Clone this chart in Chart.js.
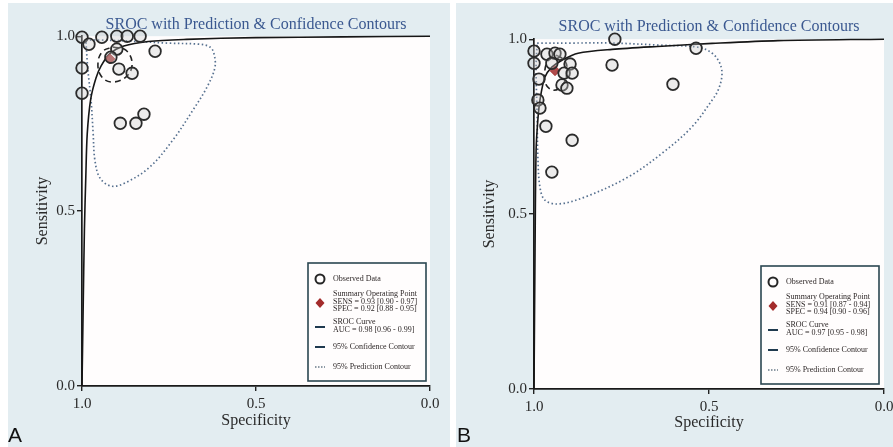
<!DOCTYPE html>
<html lang="en">
<head>
<meta charset="UTF-8">
<title>SROC with Prediction & Confidence Contours</title>
<script src="https://cdn.jsdelivr.net/npm/chart.js"></script>
<style>
  html, body { margin: 0; padding: 0; background: #fff; }
  body { width: 893px; height: 447px; position: relative; overflow: hidden; }
  .panel { position: absolute; top: 3px; height: 444px; background: #e3edf1; }
  #panelA { left: 8px; width: 442px; }
  #panelB { left: 456px; width: 437px; }
  .panel canvas { position: absolute; left: 0; top: 0; }
  .tag { position: absolute; font-family: "Liberation Sans", Arial, sans-serif; font-size: 21px; color: #111; }
</style>
</head>
<body>
<div class="panel" id="panelA"><canvas id="chartA" width="442" height="444"></canvas></div>
<div class="panel" id="panelB"><canvas id="chartB" width="437" height="444"></canvas></div>
<div class="tag" style="left:8px; top:423px;">A</div>
<div class="tag" style="left:457px; top:423px;">B</div>

<script>
// ---- Panel A data (spec, sens) ----
const obsSpecA = [1.000, 0.980, 0.943, 0.900, 0.870, 0.833, 0.790, 0.900, 0.917, 1.000, 0.894, 0.856, 1.000, 0.822, 0.890, 0.845];
const obsSensA = [0.997, 0.977, 0.997, 1.000, 1.000, 1.000, 0.957, 0.963, 0.940, 0.909, 0.906, 0.894, 0.837, 0.777, 0.751, 0.751];
const sumSpecA = 0.92, sumSensA = 0.935;
const srocSpecA = [1.000, 0.997, 0.993, 0.989, 0.985, 0.975, 0.960, 0.945, 0.920, 0.880, 0.810, 0.700, 0.500, 0.250, 0.000];
const srocSensA = [0.000, 0.200, 0.450, 0.600, 0.720, 0.820, 0.880, 0.915, 0.950, 0.972, 0.985, 0.991, 0.996, 0.998, 1.000];
const confSpecA = [0.911, 0.874, 0.856, 0.871, 0.914, 0.945, 0.954, 0.940, 0.911];
const confSensA = [0.969, 0.960, 0.923, 0.886, 0.869, 0.886, 0.926, 0.957, 0.969];
const predSpecA = [0.989, 0.948, 0.862, 0.747, 0.661, 0.632, 0.621, 0.618, 0.641, 0.681, 0.739, 0.805, 0.871, 0.914, 0.948, 0.963, 0.968, 0.974, 0.983, 0.989];
const predSensA = [0.989, 0.989, 0.986, 0.980, 0.977, 0.969, 0.951, 0.911, 0.854, 0.789, 0.703, 0.626, 0.583, 0.571, 0.594, 0.646, 0.723, 0.817, 0.903, 0.989];
const legendA = ['Observed Data', 'Summary Operating Point', 'SENS = 0.93 [0.90 - 0.97]', 'SPEC = 0.92 [0.88 - 0.95]',
                 'SROC Curve', 'AUC = 0.98 [0.96 - 0.99]', '95% Confidence Contour', '95% Prediction Contour'];

// ---- Panel B data (spec, sens) ----
const obsSpecB = [1.000, 1.000, 0.963, 0.940, 0.926, 0.949, 0.897, 0.914, 0.891, 0.920, 0.906, 0.986, 0.989, 0.983, 0.966, 0.891, 0.949, 0.769, 0.777, 0.537, 0.603];
const obsSensB = [0.966, 0.931, 0.957, 0.960, 0.957, 0.931, 0.929, 0.903, 0.903, 0.869, 0.860, 0.886, 0.826, 0.803, 0.751, 0.711, 0.620, 1.000, 0.926, 0.974, 0.871];
const sumSpecB = 0.94, sumSensB = 0.91;
const srocSpecB = [1.000, 0.997, 0.994, 0.989, 0.983, 0.969, 0.949, 0.920, 0.874, 0.777, 0.634, 0.491, 0.303, 0.000];
const srocSensB = [0.000, 0.400, 0.683, 0.769, 0.826, 0.891, 0.920, 0.940, 0.960, 0.971, 0.980, 0.988, 0.996, 1.000];
const confSpecB = [0.934, 0.911, 0.906, 0.917, 0.943, 0.966, 0.969, 0.957, 0.934];
const confSensB = [0.954, 0.937, 0.906, 0.871, 0.854, 0.871, 0.911, 0.943, 0.954];
const predSpecB = [0.991, 0.897, 0.777, 0.640, 0.531, 0.491, 0.469, 0.463, 0.474, 0.491, 0.549, 0.634, 0.731, 0.854, 0.931, 0.969, 0.983, 0.989, 0.991, 0.994, 0.991];
const predSensB = [0.989, 0.989, 0.989, 0.983, 0.977, 0.960, 0.931, 0.897, 0.854, 0.826, 0.749, 0.674, 0.606, 0.549, 0.529, 0.540, 0.577, 0.663, 0.777, 0.920, 0.989];
const legendB = ['Observed Data', 'Summary Operating Point', 'SENS = 0.91 [0.87 - 0.94]', 'SPEC = 0.94 [0.90 - 0.96]',
                 'SROC Curve', 'AUC = 0.97 [0.95 - 0.98]', '95% Confidence Contour', '95% Prediction Contour'];

const titleText = 'SROC with Prediction & Confidence Contours';
const tickVals = [0, 0.5, 1];
const serif = '"Liberation Serif", "Times New Roman", serif';

function toXY(xs, ys) {
    return xs.map((x, i) => ({ x: x, y: ys[i] }));
}

// white plot area
const plotBg = {
    id: 'plotBg',
    beforeDraw(chart) {
        const a = chart.chartArea, ctx = chart.ctx;
        ctx.save();
        ctx.fillStyle = '#fffdfd';
        ctx.fillRect(a.left, a.top, a.right - a.left, a.bottom - a.top);
        ctx.restore();
    }
};

// boxed legend in lower right of the plot
const srocLegend = {
    id: 'srocLegend',
    afterDraw(chart, args, opts) {
        const ctx = chart.ctx, a = chart.chartArea;
        const w = 118, h = 118;
        const bx = a.right - opts.insetRight - w;
        const by = a.bottom - opts.insetBottom - h;
        const t = opts.lines;
        ctx.save();
        ctx.fillStyle = '#fffdfd';
        ctx.fillRect(bx, by, w, h);
        ctx.strokeStyle = '#2b4651';
        ctx.lineWidth = 1.6;
        ctx.strokeRect(bx, by, w, h);

        // symbols
        ctx.strokeStyle = '#262626';
        ctx.lineWidth = 2;
        ctx.beginPath();
        ctx.arc(bx + 12, by + 16, 4.5, 0, Math.PI * 2);
        ctx.stroke();

        ctx.fillStyle = '#a32b2b';
        ctx.beginPath();
        ctx.moveTo(bx + 12, by + 35);
        ctx.lineTo(bx + 16.5, by + 40);
        ctx.lineTo(bx + 12, by + 45);
        ctx.lineTo(bx + 7.5, by + 40);
        ctx.closePath();
        ctx.fill();

        ctx.strokeStyle = '#1f3a4f';
        ctx.lineWidth = 2;
        [64, 84].forEach(dy => {
            ctx.beginPath();
            ctx.moveTo(bx + 7, by + dy);
            ctx.lineTo(bx + 17, by + dy);
            ctx.stroke();
        });
        ctx.lineWidth = 1.2;
        ctx.setLineDash([1.5, 1.5]);
        ctx.beginPath();
        ctx.moveTo(bx + 7, by + 104);
        ctx.lineTo(bx + 17, by + 104);
        ctx.stroke();
        ctx.setLineDash([]);

        // text
        ctx.fillStyle = '#2e2828';
        ctx.font = '8px ' + serif;
        ctx.textBaseline = 'middle';
        ctx.textAlign = 'left';
        const rows = [16, 31, 38.5, 46, 59, 66.5, 84, 104];
        t.forEach((s, i) => ctx.fillText(s, bx + 25, by + rows[i]));
        ctx.restore();
    }
};

function axisOpts(p, titleLabel, isX) {
    return {
        type: 'linear',
        min: 0,
        max: 1,
        reverse: isX,
        afterBuildTicks: s => { s.ticks = tickVals.map(v => ({ value: v })); },
        afterFit: s => { if (isX) { s.height = p.xAxisH; } else { s.width = p.yAxisW; } },
        ticks: {
            callback: v => v.toFixed(1),
            color: '#2a2a2a',
            font: { family: serif, size: 15 },
            padding: isX ? 4 : 2,
            maxRotation: 0,
            autoSkip: false
        },
        grid: { drawOnChartArea: false, drawTicks: true, tickLength: 5, color: '#222', lineWidth: 1.4 },
        border: { display: true, color: '#1a1a1a', width: 1.7 },
        title: {
            display: true,
            text: titleLabel,
            color: '#2a2a2a',
            font: { family: serif, size: 16 },
            padding: isX ? { top: 0, bottom: p.xTitlePad } : { top: p.yTitlePad, bottom: 0 }
        }
    };
}

function buildChart(id, p) {
    return new Chart(document.getElementById(id), {
        type: 'scatter',
        data: {
            datasets: [
                {
                    label: 'Summary Operating Point',
                    data: [{ x: p.sumSpec, y: p.sumSens }],
                    pointStyle: 'rectRot',
                    pointRadius: 5,
                    backgroundColor: 'rgba(163,43,43,0.85)',
                    borderColor: 'rgba(163,43,43,0.85)',
                    order: 2,
                    clip: false
                },
                {
                    label: 'Observed Data',
                    data: toXY(p.obsSpec, p.obsSens),
                    pointStyle: 'circle',
                    pointRadius: 5.8,
                    borderWidth: 1.8,
                    borderColor: '#2b2b2b',
                    backgroundColor: 'rgba(200,200,200,0.35)',
                    order: 1,
                    clip: false
                },
                {
                    label: '95% Confidence Contour',
                    data: toXY(p.confSpec, p.confSens),
                    showLine: true,
                    pointRadius: 0,
                    borderColor: '#222',
                    borderWidth: 1.6,
                    borderDash: [6, 4],
                    tension: 0.4,
                    order: 3,
                    clip: false
                },
                {
                    label: 'SROC Curve',
                    data: toXY(p.srocSpec, p.srocSens),
                    showLine: true,
                    pointRadius: 0,
                    borderColor: '#161616',
                    borderWidth: 1.6,
                    tension: 0.3,
                    order: 4,
                    clip: false
                },
                {
                    label: '95% Prediction Contour',
                    data: toXY(p.predSpec, p.predSens),
                    showLine: true,
                    pointRadius: 0,
                    borderColor: '#56708f',
                    borderWidth: 1.7,
                    borderDash: [1.5, 2.5],
                    tension: 0.35,
                    order: 5,
                    clip: false
                }
            ]
        },
        options: {
            responsive: false,
            animation: false,
            layout: { padding: { left: 0, right: p.padRight, top: 0, bottom: 0 } },
            plugins: {
                legend: { display: false },
                tooltip: { enabled: false },
                title: {
                    display: true,
                    text: titleText,
                    fullSize: false,
                    color: '#3a5890',
                    font: { family: serif, size: 16, weight: 'normal' },
                    padding: { top: p.titleTop, bottom: p.titleBottom }
                },
                srocLegend: { lines: p.legend, insetRight: p.legRight, insetBottom: 5 }
            },
            scales: {
                x: axisOpts(p, 'Specificity', true),
                y: axisOpts(p, 'Sensitivity', false)
            }
        },
        plugins: [plotBg, srocLegend]
    });
}

buildChart('chartA', {
    obsSpec: obsSpecA, obsSens: obsSensA, sumSpec: sumSpecA, sumSens: sumSensA,
    srocSpec: srocSpecA, srocSens: srocSensA, confSpec: confSpecA, confSens: confSensA,
    predSpec: predSpecA, predSens: predSensA, legend: legendA,
    padRight: 20, yAxisW: 74, xAxisH: 61, titleTop: 12, titleBottom: 2,
    yTitlePad: 25, xTitlePad: 17, legRight: 4
});

buildChart('chartB', {
    obsSpec: obsSpecB, obsSens: obsSensB, sumSpec: sumSpecB, sumSens: sumSensB,
    srocSpec: srocSpecB, srocSens: srocSensB, confSpec: confSpecB, confSens: confSensB,
    predSpec: predSpecB, predSens: predSensB, legend: legendB,
    padRight: 9, yAxisW: 78, xAxisH: 58, titleTop: 14, titleBottom: 3,
    yTitlePad: 24, xTitlePad: 15, legRight: 5
});
</script>
</body>
</html>
